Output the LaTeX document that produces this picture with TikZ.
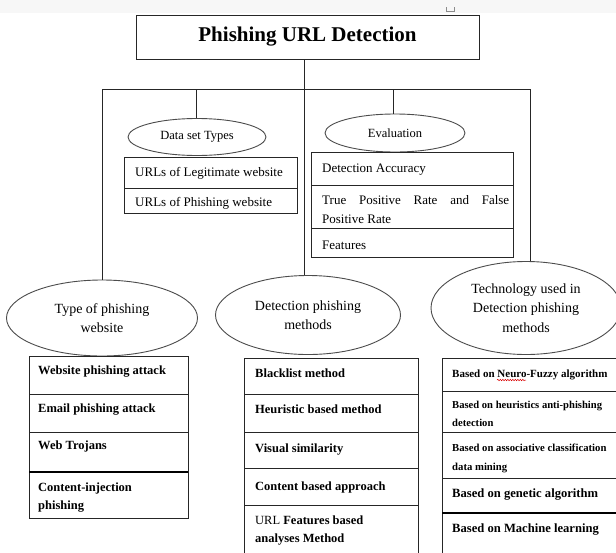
\documentclass[tikz,border=0pt]{standalone}
\usepackage{fontspec}
\setmainfont{Liberation Serif}
\usetikzlibrary{shapes.geometric,decorations.pathmorphing}
\begin{document}
\begin{tikzpicture}[x=1pt,y=-1pt,
  ln/.style={draw=black!85, line width=0.9pt},
  thickln/.style={draw=black, line width=2.2pt},
  oval/.style={ellipse, draw=black!70, line width=0.9pt, inner sep=0pt, align=center},
  bigtxt/.style={font=\fontsize{14}{19.5}\selectfont},
  smtxt/.style={font=\fontsize{12.5}{15}\selectfont},
  celltxt/.style={anchor=base west, inner sep=0pt, font=\fontsize{13}{15}\selectfont},
  boldtxt/.style={anchor=base west, inner sep=0pt, font=\fontsize{12.5}{15}\selectfont\bfseries},
  tinytxt/.style={anchor=base west, inner sep=0pt, font=\fontsize{10.7}{13}\selectfont\bfseries},
  titlebox/.style={rectangle, draw=black!85, line width=0.9pt, minimum width=343pt, minimum height=44pt, inner sep=0pt, font=\fontsize{21}{25}\selectfont\bfseries}
]
\useasboundingbox (0,0) rectangle (616,552);
\clip (0,0) rectangle (616,552);
\fill[white] (0,0) rectangle (616,552);
\fill[black!3] (0,0) rectangle (616,13);
\draw[black!45, line width=0.6pt] (446,7) -- (446,11) -- (454,11) -- (454,7);

% title
\node[titlebox] (title) at (307.5,37) {Phishing URL Detection};

% bus
\coordinate (bus) at (304,89);
\coordinate (busL) at (102,89);
\coordinate (busR) at (530,89);
\coordinate (busD) at (196,89);
\coordinate (busE) at (393,89);

% ellipses
\node[oval, smtxt, minimum width=138pt, minimum height=37pt] (dataE) at (197,137) {Data set Types};
\node[oval, smtxt, minimum width=140pt, minimum height=38pt] (evalE) at (395,133) {Evaluation};
\node[oval, bigtxt, minimum width=191pt, minimum height=76pt] (typeE) at (102,318) {Type of phishing\\website};
\node[oval, bigtxt, minimum width=185pt, minimum height=79pt] (detE) at (308,315) {Detection phishing\\methods};
\node[oval, bigtxt, minimum width=190pt, minimum height=93pt] (techE) at (526,308) {Technology used in\\Detection phishing\\methods};

% connectors
\draw[ln] (title.south -| bus) -- (bus);
\draw[ln] (busL) -- (busR);
\draw[ln] (busL) -- (typeE.north);
\draw[ln] (busD) -- (busD |- dataE.north);
\draw[ln] (bus) -- (bus |- detE.north);
\draw[ln] (busE) -- (busE |- evalE.north);
\draw[ln] (busR) -- (busR |- techE.north);

% data set box
\draw[ln] (124,157) rectangle (297,213);
\draw[ln] (124,188) -- (297,188);
\node[celltxt] (d1) at (135,176.5) {URLs of Legitimate website};
\node[celltxt] (d2) at (135,206.5) {URLs of Phishing website};

% evaluation box
\draw[ln] (311,152) rectangle (513,257);
\draw[ln] (311,185) -- (513,185);
\draw[ln] (311,228) -- (513,228);
\node[celltxt] (e1) at (322,172.5) {Detection Accuracy};
\node[celltxt] (e2) at (322,204.5) {\makebox[187pt][s]{True\hfill Positive\hfill Rate\hfill and\hfill False}};
\node[celltxt] (e3) at (322,223.5) {Positive Rate};
\node[celltxt] (e4) at (322,249.5) {Features};

% type box
\draw[ln] (29,356) rectangle (188,518);
\draw[ln] (29,394) -- (188,394);
\draw[ln] (29,432) -- (188,432);
\draw[thickln] (29,472) -- (188,472);
\node[boldtxt] (t1) at (38,374) {Website phishing attack};
\node[boldtxt] (t2) at (38,412) {Email phishing attack};
\node[boldtxt] (t3) at (38,449) {Web Trojans};
\node[boldtxt] (t4) at (38,491) {Content-injection};
\node[boldtxt] (t5) at (38,509) {phishing};

% detection box
\draw[ln] (244,570) -- (244,358) -- (418,358) -- (418,570);
\draw[ln] (244,394) -- (418,394);
\draw[ln] (244,432) -- (418,432);
\draw[ln] (244,468) -- (418,468);
\draw[ln] (244,505) -- (418,505);
\node[boldtxt] (m1) at (255,377) {Blacklist method};
\node[boldtxt] (m2) at (255,413) {Heuristic based method};
\node[boldtxt] (m3) at (255,452) {Visual similarity};
\node[boldtxt] (m4) at (255,490) {Content based approach};
\node[boldtxt] (m5) at (255,524) {\mdseries URL \bfseries Features based};
\node[boldtxt] (m6) at (255,542) {analyses Method};

% technology box
\draw[ln] (442,570) -- (442,358) -- (640,358);
\draw[ln] (442,391) -- (640,391);
\draw[ln] (442,432) -- (640,432);
\draw[ln] (442,478) -- (640,478);
\draw[thickln] (442,513) -- (640,513);
\node[tinytxt, font=\fontsize{11}{13}\selectfont\bfseries] (r1) at (452,377) {Based on Neuro-Fuzzy algorithm};
\draw[red!85!black, line width=0.5pt, decorate, decoration={snake, amplitude=0.7pt, segment length=2.5pt}] (497,380) -- (526,380);
\node[tinytxt, font=\fontsize{10.6}{13}\selectfont\bfseries] (r2) at (452,408.5) {Based on heuristics anti-phishing};
\node[tinytxt, font=\fontsize{10.6}{13}\selectfont\bfseries] (r3) at (452,426.5) {detection};
\node[tinytxt] (r4) at (452,451.5) {Based on associative classification};
\node[tinytxt] (r5) at (452,470.5) {data mining};
\node[boldtxt, font=\fontsize{12.6}{15}\selectfont\bfseries] (r6) at (452,497) {Based on genetic algorithm};
\node[boldtxt, font=\fontsize{12.6}{15}\selectfont\bfseries] (r7) at (452,532) {Based on Machine learning};
\end{tikzpicture}
\end{document}
